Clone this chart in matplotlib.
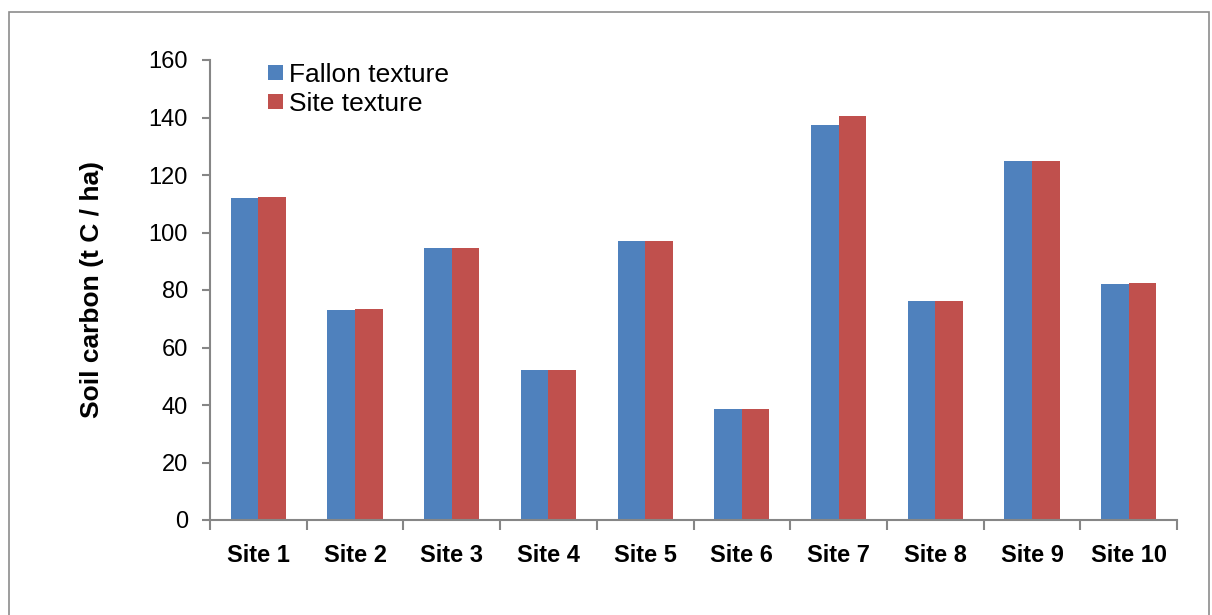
import matplotlib.pyplot as plt
import numpy as np
from matplotlib.patches import Rectangle

plt.rcParams["font.family"] = ["Liberation Sans", "DejaVu Sans"]

sites = ["Site 1", "Site 2", "Site 3", "Site 4", "Site 5",
         "Site 6", "Site 7", "Site 8", "Site 9", "Site 10"]
fallon_texture = [112.0, 73.0, 94.6, 52.3, 97.0, 38.7, 137.5, 76.2, 125.0, 82.2]
site_texture = [112.2, 73.3, 94.6, 52.2, 97.0, 38.7, 140.6, 76.2, 125.0, 82.4]
y_ticks = [0, 20, 40, 60, 80, 100, 120, 140, 160]

blue = "#4f81bd"
red = "#c0504d"
axis_grey = "#868686"

fig = plt.figure(figsize=(12.12, 6.15), dpi=100)
ax = fig.add_axes([210 / 1212, 1 - 520 / 615, (1177 - 210) / 1212, 460 / 615])

# outer chart frame (bottom edge runs off the picture)
fig.patches.append(Rectangle((9 / 1212, -0.05), 1200 / 1212, 1.05 - 12 / 615,
                             transform=fig.transFigure, fill=False,
                             edgecolor="#8c8c8c", linewidth=1.2))

x = np.arange(len(sites))
width = 1 / 3.5
ax.bar(x - width / 2, fallon_texture, width, color=blue, label="Fallon texture")
ax.bar(x + width / 2, site_texture, width, color=red, label="Site texture")

ax.set_xlim(-0.5, len(sites) - 0.5)
ax.set_ylim(0, 160)
ax.set_yticks(y_ticks)
ax.set_xticks(x)
ax.set_xticklabels(sites, fontsize=17, fontweight="bold")
ax.set_xticks(np.arange(len(sites) + 1) - 0.5, minor=True)
ax.tick_params(axis="x", which="major", length=0, pad=17)
ax.tick_params(axis="x", which="minor", length=7, color=axis_grey, width=1.5, direction="out")
ax.tick_params(axis="y", length=6, color=axis_grey, width=1.5, labelsize=17, pad=10)

for side in ["top", "right"]:
    ax.spines[side].set_visible(False)
for side in ["left", "bottom"]:
    ax.spines[side].set_color(axis_grey)
    ax.spines[side].set_linewidth(1.5)

ax.set_ylabel("Soil carbon (t C / ha)", fontsize=19, fontweight="bold")
ax.yaxis.set_label_coords(-0.11, 0.5)

ax.legend(loc="upper left", bbox_to_anchor=(0.06, 0.994), frameon=False,
          fontsize=19, handlelength=0.55, handleheight=0.5, handletextpad=0.25,
          labelspacing=0.2, borderaxespad=0, borderpad=0)

fig.savefig("out.png", dpi=100)
